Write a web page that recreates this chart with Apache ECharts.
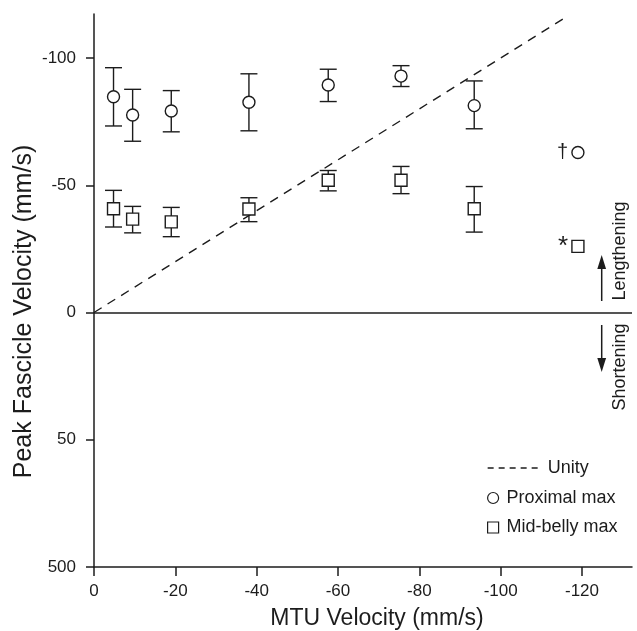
<!DOCTYPE html>
<html>
<head>
<meta charset="utf-8">
<script src="https://cdn.jsdelivr.net/npm/echarts@6/dist/echarts.min.js"></script>
<style>
  html, body { margin: 0; padding: 0; background: #fff; }
  #chart { width: 637px; height: 631px; }
</style>
</head>
<body>
<div id="chart"></div>
<script>
// MTU velocity of each trial group (mm/s)
var mtuVelocity = [-4.8, -9.5, -19, -38.1, -57.6, -75.5, -93.5, -119];

// proximal max: mean and error bar ends
var proxMean = [-84.8, -77.6, -79.2, -82.6, -89.4, -92.9, -81.3, -62.9];
var proxHigh = [-96.2, -87.7, -87.2, -93.8, -95.6, -97.0, -91.0, null];
var proxLow  = [-73.3, -67.3, -71.0, -71.4, -82.9, -88.8, -72.2, null];
var proxMark = ['', '', '', '', '', '', '', '\u2020'];

// mid-belly max
var midMean = [-40.8, -36.7, -35.6, -40.7, -52.0, -52.0, -40.8, -26.0];
var midHigh = [-48.0, -41.7, -41.3, -45.1, -55.8, -57.4, -49.5, null];
var midLow  = [-33.6, -31.3, -29.8, -35.7, -47.8, -46.7, -31.6, null];
var midMark = ['', '', '', '', '', '', '', '*'];

// unity line end points (y = x)
var unityX = [0, -116.5];

var xTicks = [0, -20, -40, -60, -80, -100, -120];
var yTicks = [-100, -50, 0, 50, 100];
var yTickLabels = ['-100', '-50', '0', '50', '500'];

var FONT = '"Liberation Sans", Arial, Helvetica, sans-serif';
var INK = '#1c1c1c';

var chart = echarts.init(document.getElementById('chart'));

function points(means, marks, fontSize){
  var out = [];
  for (var i = 0; i < means.length; i++) {
    var item = { value: [mtuVelocity[i], means[i]] };
    if (marks[i]) {
      item.label = {
        show: true, formatter: marks[i], position: 'left', distance: 3,
        fontSize: fontSize, color: INK, fontFamily: FONT
      };
    }
    out.push(item);
  }
  return out;
}

function bars(lo, hi){
  var out = [];
  for (var i = 0; i < lo.length; i++) {
    if (lo[i] != null) out.push([mtuVelocity[i], lo[i], hi[i]]);
  }
  return out;
}

function renderBar(params, api){
  var x = api.value(0);
  var a = api.coord([x, api.value(1)]);
  var b = api.coord([x, api.value(2)]);
  var w = 8.5;
  var st = { stroke: INK, lineWidth: 1.4 };
  return {
    type: 'group',
    children: [
      { type: 'line', shape: { x1: a[0], y1: a[1], x2: b[0], y2: b[1] }, style: st },
      { type: 'line', shape: { x1: a[0] - w, y1: a[1], x2: a[0] + w, y2: a[1] }, style: st },
      { type: 'line', shape: { x1: b[0] - w, y1: b[1], x2: b[0] + w, y2: b[1] }, style: st }
    ]
  };
}

var axisStyle = { color: INK, width: 1.5 };

var option = {
  animation: false,
  backgroundColor: '#fff',
  textStyle: { fontFamily: FONT },
  grid: { left: 94, right: 5, top: 14, bottom: 64, outerBoundsMode: 'none', containLabel: false },
  xAxis: {
    type: 'value',
    min: -132.3, max: 0, inverse: true,
    name: 'MTU Velocity (mm/s)',
    nameLocation: 'middle', nameGap: 40, nameMoveOverlap: false,
    nameTextStyle: { fontSize: 23, color: INK, fontFamily: FONT, padding: [0, 0, 0, 28] },
    axisLine: { onZero: false, lineStyle: axisStyle },
    axisTick: { show: true, inside: false, length: 9, lineStyle: axisStyle, customValues: xTicks },
    axisLabel: { fontSize: 17, color: INK, margin: 16, customValues: xTicks },
    splitLine: { show: false }
  },
  yAxis: {
    type: 'value',
    min: -117.3, max: 100, inverse: true,
    name: 'Peak Fascicle Velocity (mm/s)',
    nameLocation: 'middle', nameGap: 57, nameMoveOverlap: false,
    nameTextStyle: { fontSize: 25, color: INK, fontFamily: FONT, padding: [0, 42, 0, 0] },
    axisLine: { onZero: false, lineStyle: axisStyle },
    axisTick: { show: true, inside: false, length: 8, lineStyle: axisStyle, customValues: yTicks },
    axisLabel: {
      fontSize: 17, color: INK, margin: 18, customValues: yTicks,
      formatter: function(v){ return yTickLabels[yTicks.indexOf(v)]; }
    },
    splitLine: { show: false }
  },
  legend: [
    {
      data: ['Unity'],
      left: 487, top: 459, padding: 0,
      itemWidth: 52, itemHeight: 14,
      itemGap: 11,
      textStyle: { fontSize: 18, color: INK, fontFamily: FONT, padding: [0, 0, 0, 3] },
      lineStyle: { type: [6, 5], width: 1.3, color: INK },
      itemStyle: { opacity: 0 },
      selectedMode: false
    },
    {
      data: ['Proximal max', 'Mid-belly max'],
      orient: 'vertical',
      left: 487, top: 489, padding: 0,
      itemWidth: 11, itemHeight: 11,
      itemGap: 11.5,
      textStyle: { fontSize: 18, color: INK, fontFamily: FONT, padding: [0, 0, 0, 3] },
      itemStyle: { color: '#fff', borderColor: INK, borderWidth: 1.2 },
      selectedMode: false
    }
  ],
  series: [
    {
      name: 'Unity',
      type: 'line',
      data: unityX.map(function(v){ return [v, v]; }),
      showSymbol: false, symbol: 'none',
      lineStyle: { type: [9, 7], width: 1.4, color: INK },
      itemStyle: { color: INK },
      markLine: {
        silent: true, symbol: 'none', label: { show: false },
        lineStyle: { type: 'solid', color: INK, width: 1.5 },
        data: [{ yAxis: 0 }]
      },
      z: 1
    },
    {
      name: 'proxBars', type: 'custom', renderItem: renderBar,
      data: bars(proxLow, proxHigh), z: 2
    },
    {
      name: 'midBars', type: 'custom', renderItem: renderBar,
      data: bars(midLow, midHigh), z: 2
    },
    {
      name: 'Proximal max',
      type: 'scatter',
      symbol: 'circle', symbolSize: 12,
      itemStyle: { color: '#fff', borderColor: INK, borderWidth: 1.4, opacity: 1 },
      data: points(proxMean, proxMark, 20),
      z: 3
    },
    {
      name: 'Mid-belly max',
      type: 'scatter',
      symbol: 'rect', symbolSize: 12,
      itemStyle: { color: '#fff', borderColor: INK, borderWidth: 1.4, opacity: 1 },
      data: points(midMean, midMark, 26),
      z: 3
    }
  ],
  graphic: [
    {
      type: 'text', x: 620, y: 251, rotation: Math.PI / 2,
      style: { text: 'Lengthening', fontSize: 18, fontFamily: FONT, fill: INK, align: 'center', verticalAlign: 'middle' }
    },
    {
      type: 'text', x: 620, y: 367, rotation: Math.PI / 2,
      style: { text: 'Shortening', fontSize: 18, fontFamily: FONT, fill: INK, align: 'center', verticalAlign: 'middle' }
    },
    { type: 'line', shape: { x1: 601.7, y1: 301, x2: 601.7, y2: 266 }, style: { stroke: INK, lineWidth: 1.5 } },
    { type: 'polygon', shape: { points: [[601.7, 255], [597.3, 269], [606.1, 269]] }, style: { fill: INK } },
    { type: 'line', shape: { x1: 601.7, y1: 325, x2: 601.7, y2: 362 }, style: { stroke: INK, lineWidth: 1.5 } },
    { type: 'polygon', shape: { points: [[601.7, 372], [597.3, 358], [606.1, 358]] }, style: { fill: INK } }
  ]
};

chart.setOption(option);
</script>
</body>
</html>
